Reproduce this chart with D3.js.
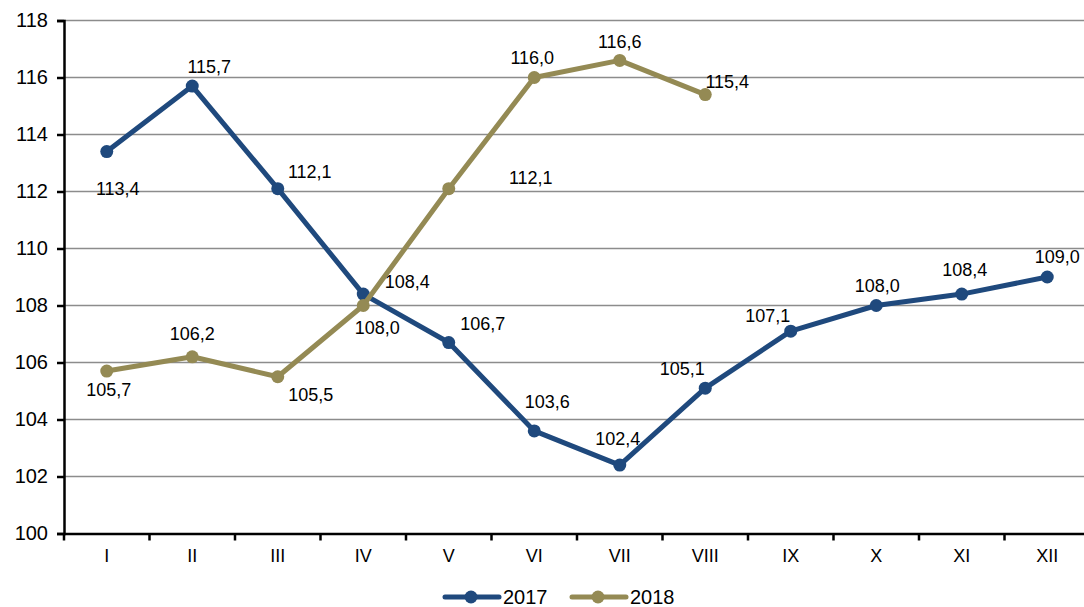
<!DOCTYPE html>
<html>
<head>
<meta charset="utf-8">
<script src="https://cdn.jsdelivr.net/npm/d3@7"></script>
<style>
  body { margin: 0; background: #fff; }
  svg { display: block; font-family: "Liberation Sans", Arial, sans-serif; }
</style>
</head>
<body>
<svg id="chart" width="1084" height="607"></svg>
<script>
const months = ["I","II","III","IV","V","VI","VII","VIII","IX","X","XI","XII"];
const values2017 = [113.4,115.7,112.1,108.4,106.7,103.6,102.4,105.1,107.1,108.0,108.4,109.0];
const values2018 = [105.7,106.2,105.5,108.0,112.1,116.0,116.6,115.4];
const yTicks = [100,102,104,106,108,110,112,114,116,118];
const seriesNames = ["2017","2018"];

// label placement (dx, dy from the point to the label centre)
const off2017 = [[11,37],[17,-19],[32,-17],[44,-12],[34,-19],[13,-29],[-2,-26],[-23,-19],[-23,-15],[1,-20],[3,-24],[10,-20]];
const off2018 = [[2,19],[0,-23],[33,18],[14,22],[82,-11],[-2,-20],[0,-19],[22,-13]];

const colors = ["#1f497d","#948a54"];
const margin = {top: 20.5, left: 64};
const width = 1026, height = 513;

const svg = d3.select("#chart");
const g = svg.append("g").attr("transform", `translate(${margin.left},${margin.top})`);

const x = d3.scaleBand().domain(months).range([0, width]);
const y = d3.scaleLinear().domain([100,118]).range([height, 0]);
const cx = d => x(d) + x.bandwidth() / 2;

// grid
g.append("g").selectAll("line")
  .data(yTicks.filter(t => t > 100))
  .join("line")
  .attr("x1", 0).attr("x2", width)
  .attr("y1", d => y(d)).attr("y2", d => y(d))
  .attr("stroke", "#8c8c8c").attr("stroke-width", 1.5);

// y axis
const yAxis = g.append("g")
  .call(d3.axisLeft(y).tickValues(yTicks).tickSize(7).tickPadding(9).tickFormat(d3.format("d")));
yAxis.attr("font-family", null).attr("font-size", 20);
yAxis.select(".domain").attr("stroke", "#000").attr("stroke-width", 2.5);
yAxis.selectAll(".tick line").attr("stroke", "#000").attr("stroke-width", 2.5);
yAxis.selectAll("text").attr("fill", "#000");

// x axis
const xAxis = g.append("g").attr("transform", `translate(0,${height})`)
  .call(d3.axisBottom(x).tickSize(0).tickPadding(16));
xAxis.attr("font-family", null).attr("font-size", 18);
xAxis.select(".domain").attr("stroke", "#000").attr("stroke-width", 2.5);
xAxis.selectAll("text").attr("fill", "#000");
g.append("g").selectAll("line")
  .data(months)
  .join("line")
  .attr("x1", d => x(d)).attr("x2", d => x(d))
  .attr("y1", height).attr("y2", height + 7)
  .attr("stroke", "#000").attr("stroke-width", 2.5);

const fmt = v => v.toFixed(1).replace(".", ",");
const line = d3.line().x(d => cx(d.m)).y(d => y(d.v));

[values2017, values2018].forEach((vals, si) => {
  const pts = vals.map((v, i) => ({m: months[i], v}));
  const offs = si === 0 ? off2017 : off2018;
  g.append("path").datum(pts)
    .attr("d", line)
    .attr("fill", "none")
    .attr("stroke", colors[si])
    .attr("stroke-width", 5)
    .attr("stroke-linejoin", "round");
  g.append("g").selectAll("circle")
    .data(pts).join("circle")
    .attr("cx", d => cx(d.m)).attr("cy", d => y(d.v))
    .attr("r", 6.5).attr("fill", colors[si]);
  g.append("g").selectAll("text")
    .data(pts).join("text")
    .attr("x", (d, i) => cx(d.m) + offs[i][0])
    .attr("y", (d, i) => y(d.v) + offs[i][1])
    .attr("dy", "0.35em")
    .attr("text-anchor", "middle")
    .attr("font-size", 18)
    .attr("fill", "#000")
    .text(d => fmt(d.v));
});

// legend
const legend = svg.append("g").attr("transform", "translate(443,597)");
seriesNames.forEach((name, i) => {
  const lg = legend.append("g").attr("transform", `translate(${i * 127},0)`);
  lg.append("line").attr("x1", 2).attr("x2", 56).attr("y1", 0).attr("y2", 0)
    .attr("stroke", colors[i]).attr("stroke-width", 5).attr("stroke-linecap", "round");
  lg.append("circle").attr("cx", 28).attr("cy", 0).attr("r", 6.5).attr("fill", colors[i]);
  lg.append("text").attr("x", 60).attr("y", 0).attr("dy", "0.35em")
    .attr("font-size", 20).attr("fill", "#000").text(name);
});
</script>
</body>
</html>
